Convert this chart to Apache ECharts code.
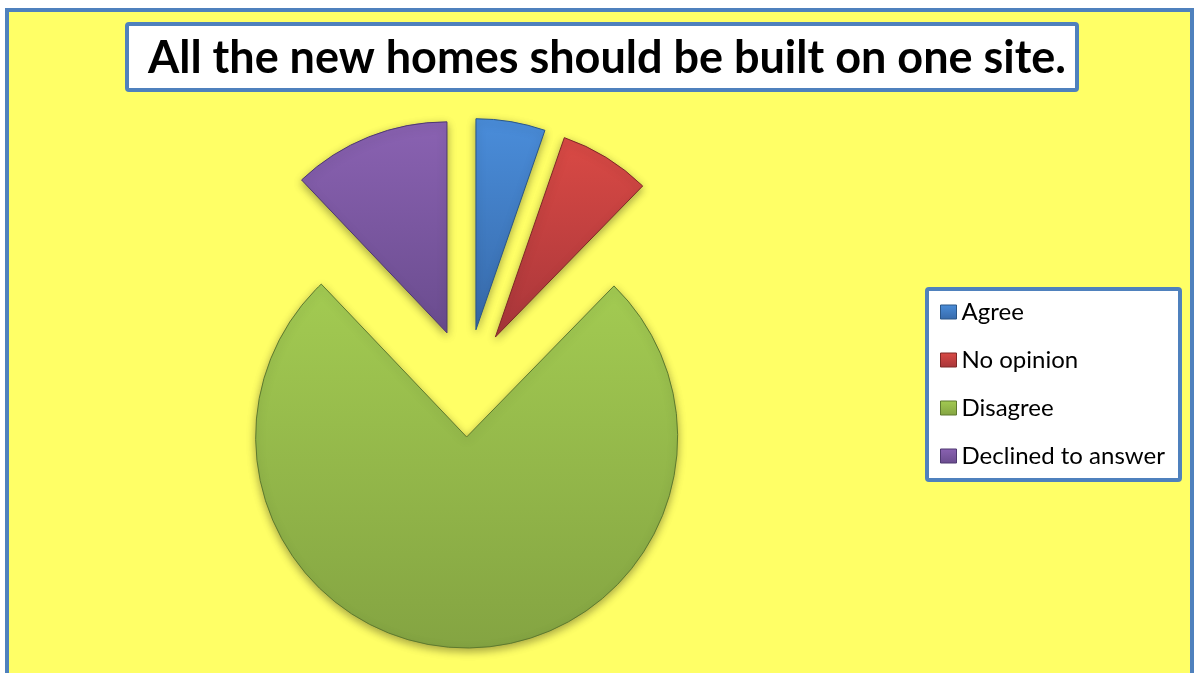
<!DOCTYPE html>
<html>
<head>
<meta charset="utf-8">
<script src="https://cdn.jsdelivr.net/npm/echarts@6/dist/echarts.min.js"></script>
<style>html,body{margin:0;padding:0;background:#fff;}#c{width:1195px;height:673px;}</style>
</head>
<body>
<div id="c"></div>
<script>
const titleText = 'All the new homes should be built on one site.';
const categories = ['Agree', 'No opinion', 'Disagree', 'Declined to answer'];
const values = [5.3, 7.0, 75.6, 12.1];
const topColors = ['#4A8DDA', '#DA4A45', '#A3CB52', '#8A62B2'];
const bottomColors = ['#376AAA', '#A8363A', '#84A442', '#6A4C8E'];
const edgeColors = ['#2A5688', '#7E2826', '#5E7A2E', '#4E3870'];

function grad(i) {
  return new echarts.graphic.LinearGradient(0, 0, 0, 1, [
    { offset: 0, color: topColors[i] },
    { offset: 1, color: bottomColors[i] }
  ]);
}

const chart = echarts.init(document.getElementById('c'), null, { renderer: 'canvas' });
chart.setOption({
  backgroundColor: '#ffffff',
  animation: false,
  graphic: [
    { type: 'rect', z: 0, shape: { x: 7, y: 10, width: 1185, height: 700 },
      style: { fill: '#FFFF66', stroke: '#4F81BD', lineWidth: 4 } },
    { type: 'rect', z: 1, shape: { x: 127, y: 24, width: 950, height: 66, r: 2 },
      style: { fill: '#ffffff', stroke: '#4F81BD', lineWidth: 4 } },
    { type: 'rect', z: 1, shape: { x: 927, y: 289, width: 253, height: 191, r: 2 },
      style: { fill: '#ffffff', stroke: '#4F81BD', lineWidth: 4 } }
  ],
  title: {
    text: titleText,
    left: 607, top: 32, textAlign: 'center',
    padding: 0,
    textStyle: { fontFamily: 'Lato', fontWeight: 'bold', fontSize: 45, color: '#000', lineHeight: 52 }
  },
  legend: {
    orient: 'vertical',
    left: 940, top: 299, padding: 0,
    itemWidth: 16, itemHeight: 14, itemGap: 22,
    icon: 'rect',
    selectedMode: false,
    textStyle: { fontFamily: 'Lato', fontSize: 24, color: '#000', lineHeight: 26 },
    data: categories.map((c, i) => ({ name: c, itemStyle: { color: grad(i), borderColor: edgeColors[i], borderWidth: 1 } }))
  },
  series: [{
    type: 'pie',
    center: [467, 383],
    radius: 211,
    startAngle: 90,
    clockwise: true,
    selectedMode: 'multiple',
    selectedOffset: 54,
    label: { show: false },
    labelLine: { show: false },
    emphasis: { disabled: true },
    data: categories.map((c, i) => ({
      name: c, value: values[i], selected: true,
      itemStyle: {
        color: grad(i), borderColor: edgeColors[i], borderWidth: 1,
        shadowBlur: 8, shadowColor: 'rgba(0,0,0,0.35)', shadowOffsetY: 3
      },
      select: { itemStyle: {
        color: grad(i), borderColor: edgeColors[i], borderWidth: 1,
        shadowBlur: 8, shadowColor: 'rgba(0,0,0,0.35)', shadowOffsetY: 3
      } }
    }))
  }]
});
</script>
</body>
</html>
